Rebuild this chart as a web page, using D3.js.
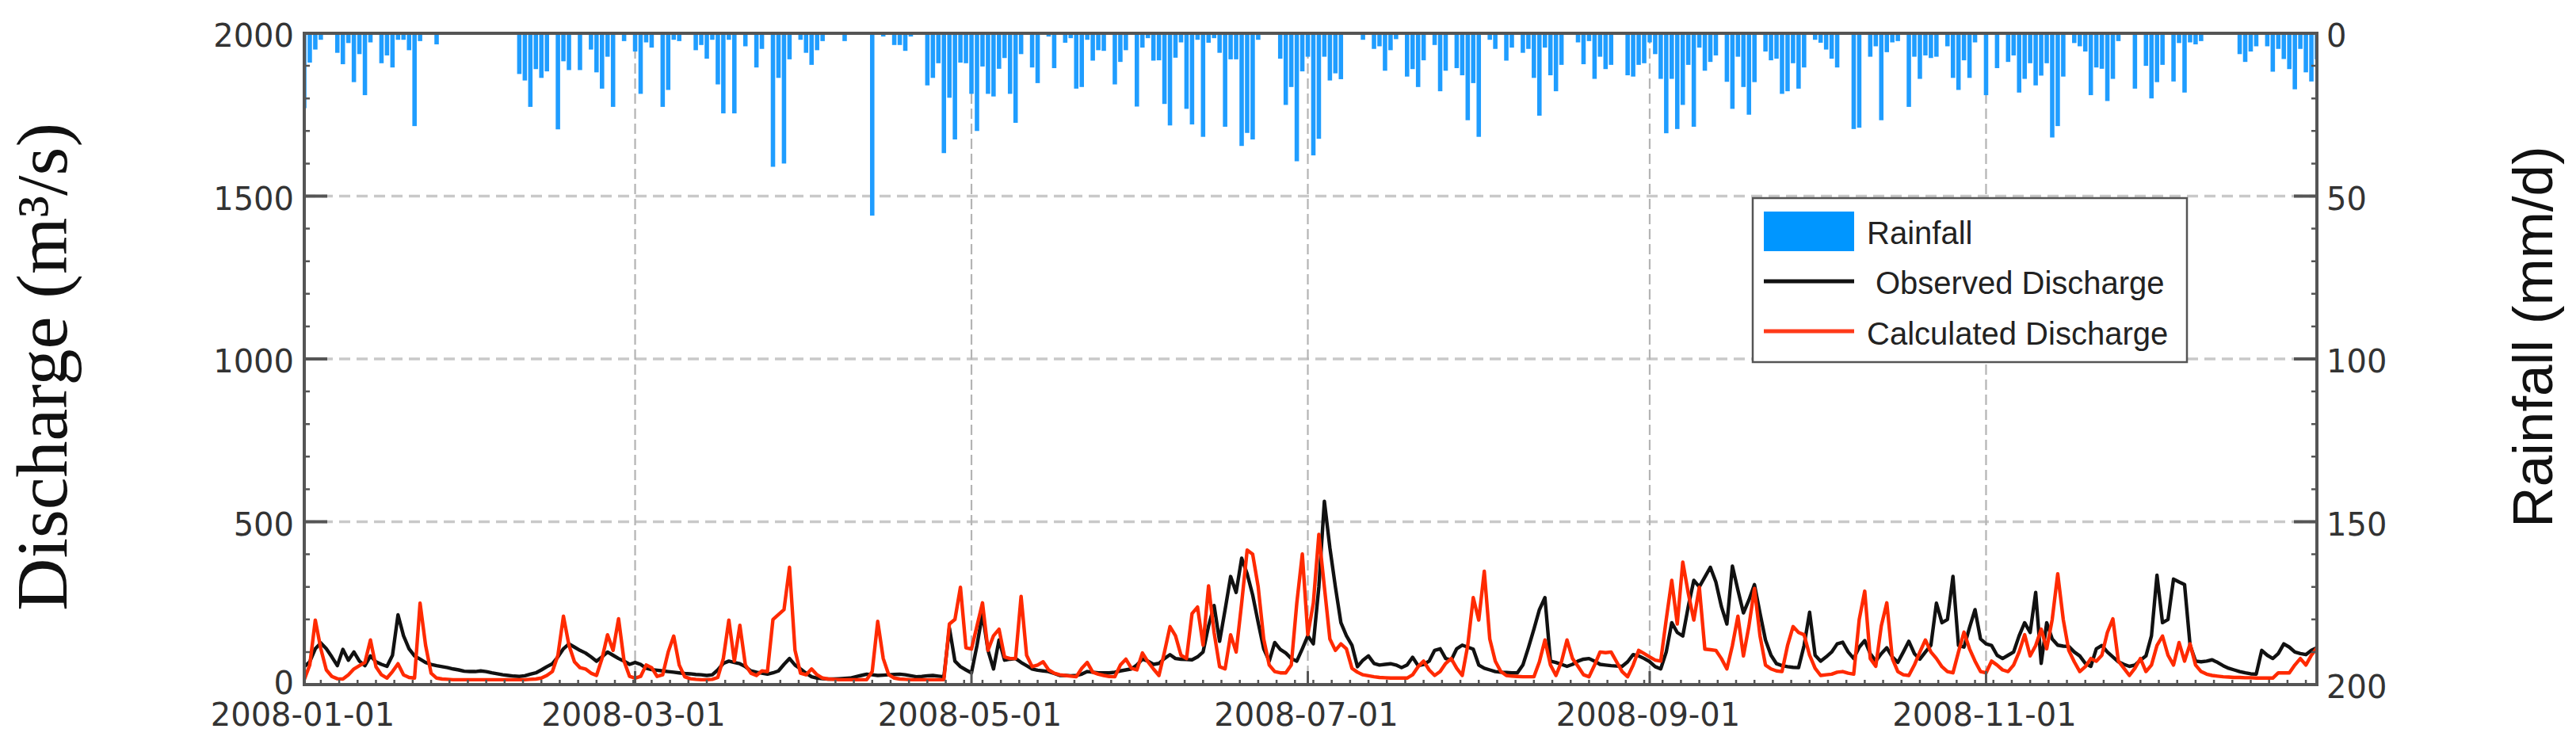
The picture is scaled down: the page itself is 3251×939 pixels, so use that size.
<!DOCTYPE html>
<html>
<head>
<meta charset="utf-8">
<script src="https://cdn.jsdelivr.net/npm/d3@7"></script>
<style>
  body { margin: 0; background: #fff; }
</style>
</head>
<body>
<div id="chart"></div>
<script>
// daily rainfall (mm/d), 2008-01-01 .. 2008-12-31, one row per month
const rainfall = [
  23,9,5,2,0,0,6,9.5,3,15,6.4,19,2.8,0,9.2,6.8,10.5,2,2,5.2,28.5,2.4,0,0,3.4,0,0,0,0,0,0,
  0,0,0,0,0,0,0,0,12.5,14.5,22.6,11,13.7,11.7,0,29.5,8.6,11.3,0,11.3,0,5,12,17,7.2,22.6,0,2.4,0,
  5.6,18.6,2.8,4.4,0,22.6,17.4,2,2.4,0,0,5.2,3.6,7.8,2,15.7,24.6,2,24.6,0,4,0,10.5,4.8,0,41,13.7,40,8,0,2,
  6,9.7,5.2,2.4,0,0,0,2.4,0,0,0,0,56,0,1,0,3.6,3.6,5.4,1,0,0,16,13.7,9.2,36.8,19.8,32.6,9,9.2,
  18.6,30,10.2,18.6,19.4,10.9,7.6,18.6,27.5,6.4,0,10.5,15.3,0,1,10.7,0,2.9,1.5,17,16.5,2,8.4,5.2,5.4,0,15.7,8.8,5.2,0,22.5,
  4.4,1.5,8.4,8.3,21.7,28.3,7.5,2.8,23.2,28,2,31.8,2.9,1.5,6,28.7,8,8,34.6,30.6,32.6,2,0,0,0,7.8,22,16.5,39.3,11.7,
  7.2,37.5,32.4,7.2,14.5,12.3,14.1,0,0,0,2,0,4.8,4,11.5,5.2,1.8,0,13.3,11,16.5,8.3,0,3.6,17.8,11.5,0,10.7,12.9,26.7,15.3,
  31.8,0,2,4.8,0,8.4,4.4,0,6,4.8,13.7,25.3,4.4,12.9,17.8,9.7,0,0,2.8,9.5,2.4,14,7.2,11,9.7,0,0,12.9,13.3,9.7,9.2,
  2.8,6.4,14,30.7,14,29.4,22,9.7,28.7,4.4,11.5,8.8,6.8,0,14.9,23.2,7.2,16.5,25,15,0,5.6,8.3,7.8,18.6,17.8,9.2,17,10.5,0,
  2,2.9,5,7.8,10.5,0,0,29.4,29,0,7.2,4,26.7,5.8,2.8,2.4,0,22.6,7.2,14,6.8,7.6,7.2,0,4,13.7,17.4,8.3,13.7,2.8,0,
  19,0,10.7,0,8.8,6.8,18.2,14,9.2,16,13,9.2,32,28.5,13.3,0,3,4,5.6,19,10.5,10.9,20.8,14,2.4,0,0,17,0,10,
  20,15,9.7,0,14.8,3,18.2,2.8,3.4,2.4,0,0,0,0,0,0,6.4,8.8,5.6,4,0,4,11.8,4.8,7.9,11,17.2,4.8,12,14.8,8
];

// observed discharge (m3/s)
const observed = [
  55,70,110,128,110,85,58,108,75,100,72,58,88,70,62,56,90,214,150,110,88,78,68,62,58,55,52,48,45,41,40,
  40,42,40,36,33,30,28,26,25,27,32,36,45,55,64,85,110,125,115,105,97,85,72,85,100,90,80,72,62,
  68,62,50,46,44,42,40,38,36,34,33,31,30,28,30,45,65,72,68,64,55,42,38,35,32,36,42,62,80,60,48,
  35,24,20,18,17,17,18,19,20,24,28,32,30,28,29,30,31,32,30,27,24,25,27,28,26,24,174,72,55,45,
  36,120,218,105,48,137,75,78,80,68,58,48,44,42,40,34,28,28,27,28,32,40,38,36,36,36,38,42,45,48,60,
  78,72,62,65,80,92,80,78,77,76,85,100,180,243,133,230,332,283,388,340,275,190,110,72,129,108,97,80,72,110,
  150,125,300,563,420,300,190,150,121,55,75,88,65,60,62,64,60,52,60,84,58,62,72,105,110,80,75,110,121,115,109,
  60,50,45,40,38,37,36,36,60,113,170,230,267,72,68,62,56,62,72,78,80,72,62,60,58,57,56,70,92,88,80,
  70,55,48,100,190,160,149,240,320,300,330,360,315,240,186,364,290,220,260,307,220,137,90,64,58,55,53,52,120,222,
  90,72,85,100,125,130,100,80,115,135,95,72,95,113,85,68,100,133,95,78,100,121,250,190,200,332,120,115,175,230,140,
  125,120,90,80,90,100,150,190,160,283,65,190,140,121,118,117,100,88,65,56,110,120,100,85,70,62,56,60,75,88,
  150,336,190,200,324,315,307,121,72,70,72,76,68,58,50,45,40,36,33,32,105,90,80,95,125,115,100,95,92,105,113
];

// calculated discharge (m3/s)
const calculated = [
  15,60,198,110,45,25,18,17,30,48,58,68,137,55,30,20,40,64,30,22,20,250,121,35,20,17,16,15,15,15,15,
  15,15,15,15,15,15,15,15,15,15,16,17,20,28,40,90,210,121,70,52,48,35,28,80,153,105,202,72,25,
  20,25,60,52,25,30,100,149,60,24,18,16,15,15,16,22,80,198,72,182,60,35,28,42,40,200,215,230,360,105,35,
  30,48,30,20,17,16,15,15,15,15,15,15,40,194,80,30,20,17,16,15,15,15,15,15,15,15,186,200,299,113,
  109,180,251,105,150,170,85,80,80,271,90,55,60,70,45,35,30,28,26,24,50,68,38,32,28,25,24,60,78,50,45,
  97,70,48,28,100,178,150,90,80,218,238,121,303,160,55,48,153,100,250,413,400,300,140,60,40,36,36,60,250,401,
  153,250,461,300,140,105,125,110,50,38,30,27,24,22,21,20,20,20,20,30,55,72,45,28,40,65,80,50,28,120,267,
  198,348,140,72,40,28,26,25,24,24,24,70,137,60,28,70,137,80,56,30,24,60,100,98,100,70,40,24,60,105,95,
  85,75,72,200,320,186,376,280,198,299,109,107,105,80,48,120,210,88,180,295,150,60,48,42,40,120,178,160,153,90,
  50,28,30,32,38,40,35,32,200,287,80,56,180,251,80,40,30,28,60,100,137,100,80,55,40,36,100,161,110,72,40,
  36,72,60,45,40,60,100,153,88,120,170,110,200,340,200,105,70,40,55,80,72,90,160,202,72,50,28,50,80,40,
  60,120,149,90,60,129,72,125,60,40,32,28,26,24,23,22,22,21,21,20,20,20,20,36,36,36,60,80,60,90,113
];

const dischargeTicks = [0, 500, 1000, 1500, 2000];
const rainTicks = [0, 50, 100, 150, 200];
const dateTicks = ["2008-01-01", "2008-03-01", "2008-05-01", "2008-07-01", "2008-09-01", "2008-11-01"];
const legendItems = ["Rainfall", "Observed Discharge", "Calculated Discharge"];

// page setup
const width = 3251, height = 939;
const plot = { left: 384, right: 2924, top: 42, bottom: 864 };
const tickFont = "'DejaVu Sans', sans-serif";

const svg = d3.select("#chart").append("svg")
    .attr("width", width)
    .attr("height", height);

const parse = d3.utcParse("%Y-%m-%d");
const start = parse("2008-01-01");
const dates = rainfall.map((d, i) => d3.utcDay.offset(start, i));

const x = d3.scaleUtc()
    .domain([start, parse("2008-12-31")])
    .range([plot.left, plot.right]);

const yQ = d3.scaleLinear().domain([0, 2000]).range([plot.bottom, plot.top]);
const yR = d3.scaleLinear().domain([0, 200]).range([plot.top, plot.bottom]);

svg.append("defs").append("clipPath").attr("id", "plot-clip")
  .append("rect")
    .attr("x", plot.left).attr("y", plot.top)
    .attr("width", plot.right - plot.left)
    .attr("height", plot.bottom - plot.top);

// horizontal dashed grid
svg.append("g").selectAll("line")
  .data(dischargeTicks.filter(d => d > 0 && d < 2000))
  .join("line")
    .attr("x1", plot.left).attr("x2", plot.right)
    .attr("y1", d => yQ(d)).attr("y2", d => yQ(d))
    .attr("stroke", "#c9c9c9")
    .attr("stroke-width", 3.5)
    .attr("stroke-dasharray", "14,8");

// vertical dashed grid
svg.append("g").selectAll("line")
  .data(dateTicks.slice(1).map(parse))
  .join("line")
    .attr("x1", d => x(d)).attr("x2", d => x(d))
    .attr("y1", plot.top).attr("y2", plot.bottom)
    .attr("stroke", "#b4b4b4")
    .attr("stroke-width", 2.2)
    .attr("stroke-dasharray", "13,6");

const dayW = x(dates[1]) - x(dates[0]);
const barW = dayW * 0.8;

// rainfall bars hanging from the top
svg.append("g")
    .attr("clip-path", "url(#plot-clip)")
  .selectAll("rect")
  .data(rainfall.map((v, i) => ({ date: dates[i], v })).filter(d => d.v > 0))
  .join("rect")
    .attr("x", d => x(d.date) - barW / 2)
    .attr("y", yR(0))
    .attr("width", barW)
    .attr("height", d => yR(d.v) - yR(0))
    .attr("fill", "#1f9dff");

// discharge lines
const line = d3.line()
    .x((d, i) => x(dates[i]))
    .y(d => yQ(d));

const lines = svg.append("g").attr("clip-path", "url(#plot-clip)");
lines.append("path")
    .datum(observed)
    .attr("fill", "none")
    .attr("stroke", "#111")
    .attr("stroke-width", 4.4)
    .attr("stroke-linejoin", "round")
    .attr("d", line);
lines.append("path")
    .datum(calculated)
    .attr("fill", "none")
    .attr("stroke", "#ff2a00")
    .attr("stroke-width", 4.4)
    .attr("stroke-linejoin", "round")
    .attr("d", line);

// frame
svg.append("rect")
    .attr("x", plot.left).attr("y", plot.top)
    .attr("width", plot.right - plot.left)
    .attr("height", plot.bottom - plot.top)
    .attr("fill", "none")
    .attr("stroke", "#555")
    .attr("stroke-width", 4);

// y ticks (inward) on both sides
const ticks = svg.append("g").attr("stroke", "#555");
ticks.selectAll(".ymaj")
  .data(dischargeTicks)
  .join("path")
    .attr("d", d => `M${plot.left},${yQ(d)}h29M${plot.right},${yQ(d)}h-29`)
    .attr("stroke-width", 4);
ticks.selectAll(".ymin")
  .data(d3.range(100, 2000, 100))
  .join("path")
    .attr("d", d => `M${plot.left},${yQ(d)}h7M${plot.right},${yQ(d)}h-7`)
    .attr("stroke-width", 2.5);

// x ticks: minor every 10/3 days, major at labelled dates
ticks.selectAll(".xmin")
  .data(d3.range(3, 365, 10 / 3))
  .join("path")
    .attr("d", d => `M${x(d3.utcHour.offset(start, d * 24))},${plot.bottom}v-6`)
    .attr("stroke-width", 2.5);
ticks.selectAll(".xmaj")
  .data(dateTicks.map(parse))
  .join("path")
    .attr("d", d => `M${x(d)},${plot.bottom}v-17`)
    .attr("stroke-width", 3);

// tick labels
svg.append("g").selectAll("text")
  .data(dischargeTicks)
  .join("text")
    .attr("x", plot.left - 13)
    .attr("y", d => yQ(d) + (d === 0 ? 12 : 17))
    .attr("text-anchor", "end")
    .style("font-family", tickFont)
    .style("font-size", "40px")
    .attr("fill", "#333")
    .text(d => d);

svg.append("g").selectAll("text")
  .data(rainTicks)
  .join("text")
    .attr("x", plot.right + 12)
    .attr("y", d => yR(d) + 17)
    .attr("text-anchor", "start")
    .style("font-family", tickFont)
    .style("font-size", "40px")
    .attr("fill", "#333")
    .text(d => d);

svg.append("g").selectAll("text")
  .data(dateTicks)
  .join("text")
    .attr("x", d => x(parse(d)) - 2)
    .attr("y", 916)
    .attr("text-anchor", "middle")
    .style("font-family", tickFont)
    .style("font-size", "40px")
    .attr("fill", "#333")
    .text(d => d);

// axis titles
svg.append("text")
    .attr("transform", "translate(84,463) rotate(-90)")
    .attr("text-anchor", "middle")
    .style("font-family", "'Liberation Serif', serif")
    .style("font-size", "92px")
    .attr("fill", "#111")
    .text("Discharge (m³/s)");

svg.append("text")
    .attr("transform", "translate(3221,425) rotate(-90)")
    .attr("text-anchor", "middle")
    .style("font-family", "'Liberation Sans', sans-serif")
    .style("font-size", "71px")
    .attr("fill", "#111")
    .text("Rainfall (mm/d)");

// legend
const legend = svg.append("g");
legend.append("rect")
    .attr("x", 2212).attr("y", 250)
    .attr("width", 548).attr("height", 207)
    .attr("fill", "#fff")
    .attr("stroke", "#555")
    .attr("stroke-width", 2.5);
legend.append("rect")
    .attr("x", 2226).attr("y", 267)
    .attr("width", 114).attr("height", 50)
    .attr("fill", "#0096ff");
legend.append("line")
    .attr("x1", 2226).attr("x2", 2340)
    .attr("y1", 355).attr("y2", 355)
    .attr("stroke", "#111").attr("stroke-width", 5);
legend.append("line")
    .attr("x1", 2226).attr("x2", 2340)
    .attr("y1", 418).attr("y2", 418)
    .attr("stroke", "#ff3a1a").attr("stroke-width", 5);
legend.selectAll("text")
  .data(legendItems)
  .join("text")
    .attr("x", (d, i) => i === 1 ? 2367 : 2356)
    .attr("y", (d, i) => [308, 371, 435][i])
    .style("font-family", "'Liberation Sans', sans-serif")
    .style("font-size", "40px")
    .attr("fill", "#222")
    .text(d => d);
</script>
</body>
</html>
